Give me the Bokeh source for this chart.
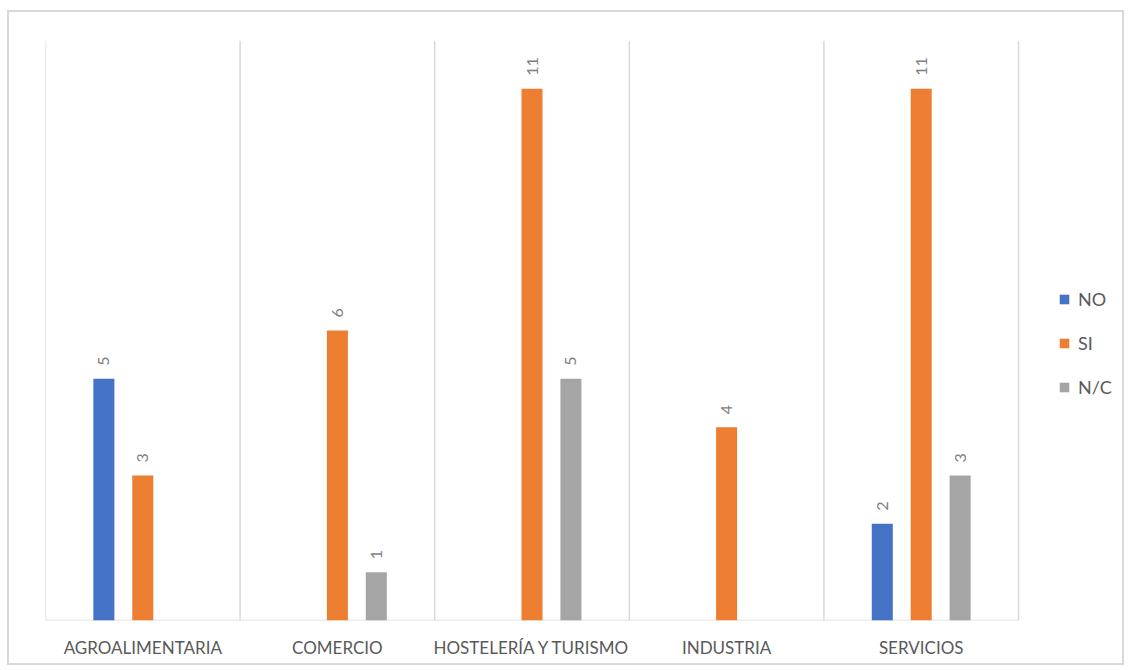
from bokeh.plotting import figure
from bokeh.models import ColumnDataSource, Range1d, Legend, LegendItem, FixedTicker
from bokeh.embed import file_html
from bokeh.resources import INLINE
from bokeh.core.properties import value
import math

categories = ["AGROALIMENTARIA", "COMERCIO", "HOSTELERÍA Y TURISMO", "INDUSTRIA", "SERVICIOS"]
series_names = ["NO", "SI", "N/C"]
no_vals = [5, 0, 0, 0, 2]
si_vals = [3, 6, 11, 4, 11]
nc_vals = [0, 1, 5, 0, 3]
colors = ["#4472C4", "#ED7D31", "#A5A5A5"]
offsets = [-0.2, 0.0, 0.2]

FONT = "Lato"
n = len(categories)
centers = [i + 0.5 for i in range(n)]

p = figure(width=1117, height=655, output_backend="svg", toolbar_location=None,
           x_range=Range1d(0, n * 1081 / 973), y_range=Range1d(0, 12),
           min_border_left=36, min_border_right=0, min_border_top=28, min_border_bottom=47,
           styles={"border": "2px solid #d9d9d9", "margin-left": "7px", "margin-top": "10px"})
p.outline_line_color = None
p.background_fill_color = "white"
p.border_fill_color = "white"
p.yaxis.visible = False
p.xgrid.grid_line_color = None
p.ygrid.grid_line_color = None

# category separators and base line
bounds = list(range(n + 1))
p.segment(x0=bounds, y0=[0] * len(bounds), x1=bounds, y1=[12] * len(bounds),
          line_color="#d9d9d9", line_width=1.5)
p.segment(x0=[0], y0=[0], x1=[n], y1=[0], line_color="#d9d9d9", line_width=1.5)

items = []
for name, vals, col, off in zip(series_names, [no_vals, si_vals, nc_vals], colors, offsets):
    xs = [c + off for c in centers]
    src = ColumnDataSource(dict(x=xs, v=vals, lab=[str(v) if v else "" for v in vals]))
    r = p.vbar(x="x", top="v", width=0.108, source=src, fill_color=col, line_color=None)
    p.text(x="x", y="v", text="lab", source=src,
           angle=math.pi / 2, text_align="left", text_baseline="middle",
           y_offset=-13, text_font=value(FONT), text_font_size="16px", text_color="#7f7f7f")
    items.append(LegendItem(label=name, renderers=[r]))

xa = p.xaxis[0]
xa.ticker = FixedTicker(ticks=centers)
xa.major_label_overrides = {c: cat for c, cat in zip(centers, categories)}
xa.axis_line_color = None
xa.major_tick_line_color = None
xa.minor_tick_line_color = None
xa.major_label_text_font = FONT
xa.major_label_text_font_size = "17px"
xa.major_label_text_color = "#595959"
xa.major_label_standoff = 10

legend = Legend(items=items, location=(1013, 222), orientation="vertical",
                glyph_width=12, glyph_height=12, label_standoff=8, label_text_font=FONT,
                label_text_font_size="18px", label_text_color="#595959",
                spacing=22, border_line_color=None, background_fill_alpha=0,
                padding=5, margin=0)
p.add_layout(legend, "center")

open("out.html", "w").write(file_html(p, INLINE))
